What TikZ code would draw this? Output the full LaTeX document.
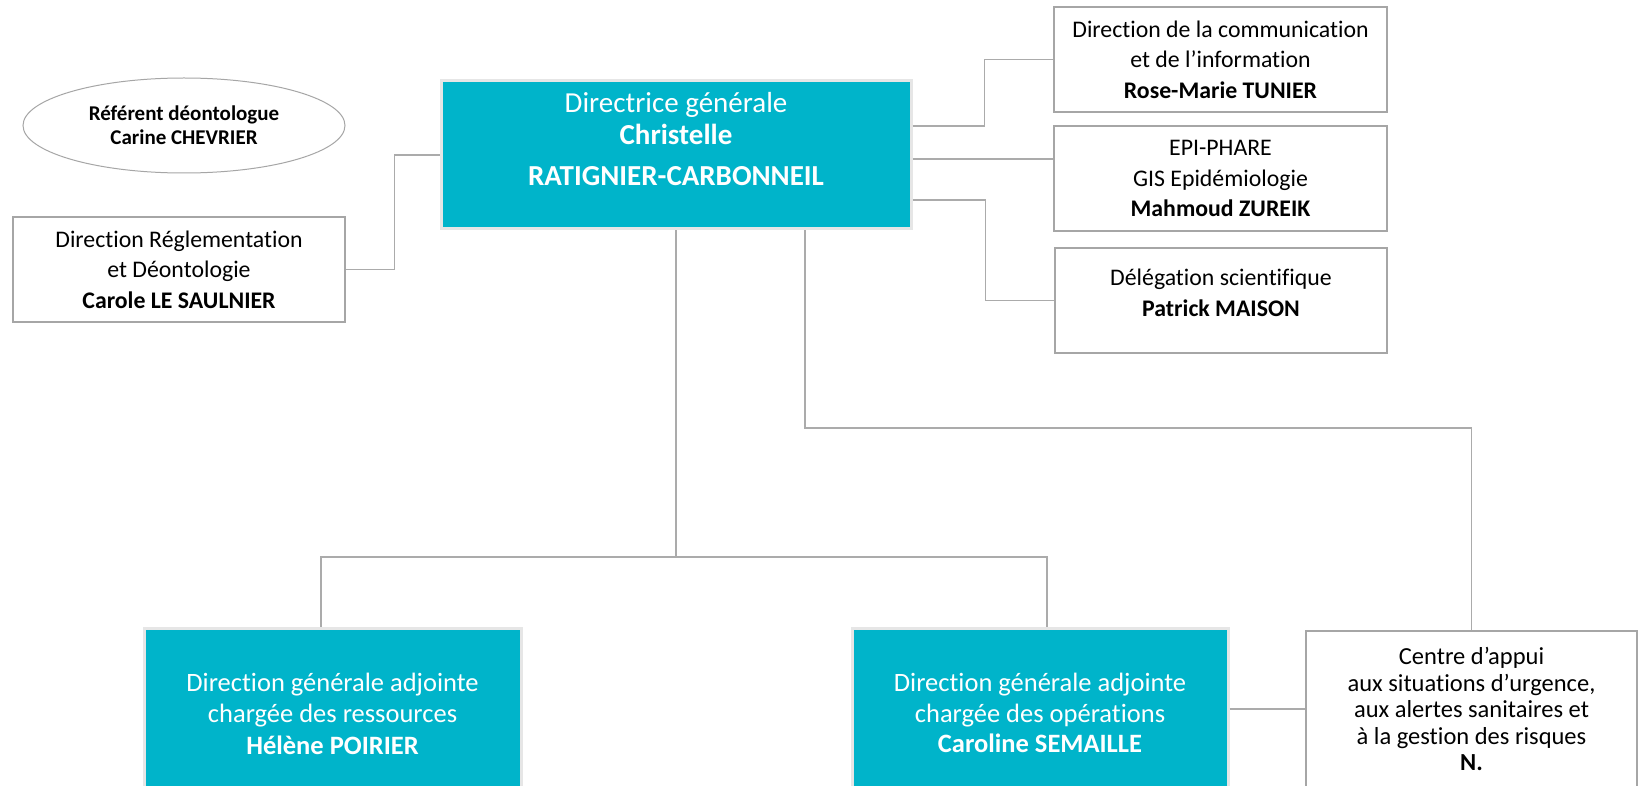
\documentclass[tikz,border=0pt]{standalone}
\usepackage{fontspec}
\setmainfont{Carlito}[Ligatures={NoCommon}]
\usetikzlibrary{shapes.geometric}
\definecolor{tealfill}{HTML}{00B4CA}
\definecolor{tealedge}{HTML}{E6E6E6}
\definecolor{boxedge}{HTML}{A6A6A6}
\definecolor{linegray}{HTML}{ABABAB}
\begin{document}
\begin{tikzpicture}[x=1pt,y=-1pt,
  tealbox/.style={rectangle, fill=tealfill, draw=tealedge, line width=3pt, text=white, align=center, inner sep=0pt},
  graybox/.style={rectangle, fill=white, draw=boxedge, line width=2.5pt, text=black, align=center, inner sep=0pt, font=\fontsize{23.8}{30.5}\selectfont, minimum width=333pt, minimum height=105pt},
  ovalbox/.style={ellipse, draw=boxedge, line width=1pt, fill=white, align=center, inner sep=0pt, font=\fontsize{21}{24}\selectfont\bfseries},
  conn/.style={draw=linegray, line width=1.3pt},
]
\useasboundingbox (0,0) rectangle (1646,786);
\fill[white] (0,0) rectangle (1646,786);
\clip (0,0) rectangle (1646,786);

% nodes
\node[ovalbox, minimum width=322pt, minimum height=95pt] (ref) at (184,125.5) {Référent déontologue\\Carine CHEVRIER};
\node[graybox, minimum width=332pt] (drd) at (179,269.5) {Direction Réglementation\\et Déontologie\\\textbf{Carole LE SAULNIER}};
\node[tealbox, minimum width=470pt, minimum height=148pt, font=\fontsize{29}{32}\selectfont] (main) at (676,155) {Directrice générale\\\textbf{Christelle}\\[9pt]\textbf{RATIGNIER-CARBONNEIL}\rule[-32pt]{0pt}{32pt}};
\node[graybox] (com) at (1220.5,59.5) {Direction de la communication\\et de l’information\\\textbf{Rose-Marie TUNIER}};
\node[graybox] (epi) at (1220.5,178.5) {EPI-PHARE\\GIS Epidémiologie\\\textbf{Mahmoud ZUREIK}};
\node[graybox, minimum width=332pt] (del) at (1221,300.5) {Délégation scientifique\\\textbf{Patrick MAISON}\rule[-16pt]{0pt}{16pt}};
\node[tealbox, minimum width=377pt, minimum height=171pt, font=\fontsize{26.5}{31.5}\selectfont] (dgr) at (332.5,713.5) {Direction générale adjointe\\chargée des ressources\\\textbf{Hélène POIRIER}};
\node[tealbox, minimum width=376pt, minimum height=170pt, font=\fontsize{26.5}{30.5}\selectfont] (dgo) at (1040,713) {Direction générale adjointe\\chargée des opérations\\\textbf{Caroline SEMAILLE}};
\node[graybox, minimum width=331pt, minimum height=170pt, font=\fontsize{24.5}{26.4}\selectfont] (cen) at (1471.5,716) {Centre d’appui\\aux situations d’urgence,\\aux alertes sanitaires et\\à la gestion des risques\\\textbf{N.}\rule[-14pt]{0pt}{14pt}};

% connectors
\coordinate (j) at (676,557);
\coordinate (k) at (805,428);
\draw[conn] (drd.east) -- ++(48,0) |- (main.west);
\draw[conn] ([yshift=29pt]main.east) -- ++(72,0) |- (com.west);
\draw[conn] ([yshift=-4pt]main.east) -- ([yshift=-4pt]main.east -| epi.west);
\draw[conn] ([yshift=-45pt]main.east) -- ++(73,0) |- (del.west);
\draw[conn] (main.south) -- (j);
\draw[conn] ([xshift=-11.5pt]dgr.north) |- (j);
\draw[conn] ([xshift=7pt]dgo.north) |- (j);
\draw[conn] ([xshift=129pt]main.south) -- (k) -| (cen.north);
\draw[conn] ([yshift=4pt]dgo.east) -- ([yshift=4pt]dgo.east -| cen.west);
\end{tikzpicture}
\end{document}
